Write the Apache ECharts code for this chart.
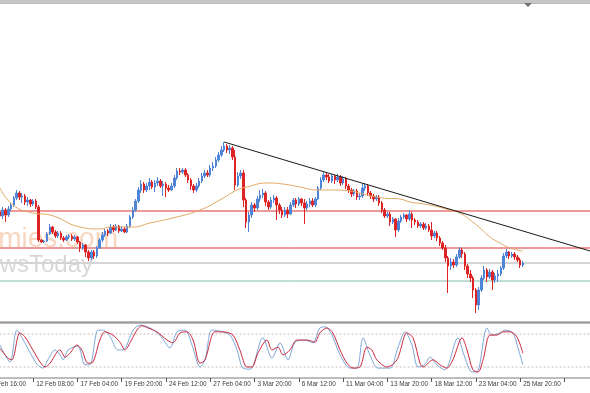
<!DOCTYPE html>
<html><head><meta charset="utf-8">
<script src="https://cdn.jsdelivr.net/npm/echarts@6/dist/echarts.min.js"></script>
<style>html,body{margin:0;padding:0;background:#fff;overflow:hidden}#c{width:590px;height:393px}</style>
</head><body><div id="c"></div>
<script>
// Bottom time axis: one label every 16 bars (H4 bars)
const tickLabels = ['9 Feb 16:00','12 Feb 08:00','17 Feb 04:00','19 Feb 20:00','24 Feb 12:00','27 Feb 04:00','3 Mar 20:00','6 Mar 12:00','11 Mar 04:00','13 Mar 20:00','18 Mar 12:00','23 Mar 04:00','25 Mar 20:00'];
const barsPerLabel = 16;
const totalBars = 218;     // slots on the time axis (incl. empty right margin)
const firstBar = 4;        // first bar with data

// Candles [open, close, low, high] (price units), bars 4..193
const candles = [
[188,184,180,192],[184,190,181,193],[190,185,178,192],[185,191,183,194],[191,195,189,197],[195,202,193,204],
[202,207,200,210],[207,203,200,209],[203,204,197,207],[204,198,195,206],[198,200,194,203],[200,196,193,201],
[196,199,194,201],[199,193,191,201],[193,160,158,195],[160,158,157,161],[158,159,157,160],[159,166,158,168],
[166,173,165,176],[173,168,166,174],[168,164,162,170],[164,167,162,169],[167,162,160,169],[162,160,158,164],
[160,163,159,165],[163,164,161,166],[164,161,159,166],[161,163,159,165],[163,158,156,164],[158,152,148,159],
[152,155,150,157],[155,148,143,156],[148,142,139,150],[142,148,140,150],[148,144,141,150],[144,152,142,154],
[152,160,151,162],[160,165,158,168],[165,169,163,171],[169,167,164,171],[167,173,166,176],[173,170,168,175],
[170,174,169,176],[174,169,167,175],[169,171,168,174],[171,168,167,173],[168,174,167,176],[174,183,172,185],
[183,190,181,193],[190,199,188,201],[199,210,197,213],[210,216,207,220],[216,210,207,218],[210,214,208,217],
[214,218,210,222],[218,213,211,220],[213,217,208,220],[217,219,214,223],[219,214,212,221],[214,216,204,219],
[216,212,203,218],[212,210,208,215],[210,214,209,217],[214,222,212,225],[222,229,220,232],[229,228,225,232],
[228,230,226,232],[230,225,223,232],[225,220,217,227],[220,214,210,222],[214,210,207,216],[210,214,208,217],
[214,219,212,222],[219,224,217,227],[224,227,222,230],[227,225,223,230],[225,232,223,235],[232,234,229,238],
[234,240,232,243],[240,245,238,248],[245,250,243,254],[250,254,248,258],[254,250,247,256],[250,252,246,255],
[252,243,240,254],[243,215,210,250],[215,224,213,228],[224,227,221,230],[227,200,193,230],[200,178,172,202],
[178,185,168,188],[185,195,182,198],[195,192,188,197],[192,201,190,204],[201,205,198,210],[205,207,202,211],
[207,198,194,209],[198,193,190,200],[193,200,191,203],[200,202,197,205],[202,195,180,204],[195,190,186,197],
[190,185,182,193],[185,190,183,193],[190,186,182,193],[186,195,185,198],[195,200,193,202],[200,196,192,202],
[196,201,194,203],[201,197,194,202],[197,192,176,201],[192,196,190,199],[196,199,193,202],[199,195,193,202],
[195,201,193,203],[201,212,200,214],[212,220,210,223],[220,225,218,228],[225,223,220,227],[223,219,217,226],
[219,224,217,226],[224,220,216,225],[220,223,218,226],[223,217,214,225],[217,221,215,224],[221,214,211,223],
[214,210,207,216],[210,206,203,212],[206,209,204,211],[209,203,200,211],[203,204,200,207],[204,212,202,216],
[212,214,209,217],[214,207,204,216],[207,204,201,209],[204,201,198,206],[201,203,199,205],[203,197,194,205],
[197,190,187,199],[190,184,182,192],[184,186,182,188],[186,178,174,188],[178,181,176,183],[181,170,163,182],
[170,179,168,182],[179,183,177,185],[183,185,181,187],[185,181,178,186],[181,186,179,190],[186,180,172,188],
[180,178,175,182],[178,174,172,180],[174,176,172,178],[176,172,170,178],[172,174,170,177],[174,170,168,176],
[170,164,160,178],[164,167,162,169],[167,162,159,169],[162,157,154,164],[157,152,150,159],[152,142,138,155],
[142,134,107,144],[134,138,130,142],[138,135,132,141],[135,143,133,146],[143,150,141,153],[150,146,142,152],
[146,134,130,148],[134,126,122,136],[126,122,118,130],[122,110,102,124],[110,95,87,112],[95,110,90,113],
[110,122,108,125],[122,130,120,134],[130,123,118,132],[123,128,121,131],[128,120,110,130],[120,124,117,127],
[124,126,118,130],[126,132,124,134],[132,144,130,147],[144,148,142,151],[148,144,141,149],[144,146,142,148],
[146,143,140,148],[143,140,138,145],[140,135,132,142],[135,137,133,139]
];

// Moving average [bar, price]
const maPoints = [[4,212],[8.7,195],[15.9,187],[22.1,185],[32.9,173],[40.1,171],[43.8,173],[52.1,173],[58.2,177],
[66.5,182],[76.3,190],[83.5,200],[89.7,210],[93.3,213],[100.5,217],[106.3,216],[112.4,213],[118.9,210],[124.3,210],
[130.5,209],[136.6,205],[142.4,202],[148.6,201],[152.2,198],[159.4,195],[166.6,190],[170.2,187],[173.9,180],
[177.5,172],[181.1,163],[184.7,157],[188.3,152],[193,149]];

// Horizontal levels and trend line
const resistanceLevel = 189;
const supportLevel = 152;
const bidLevel = 137;
const lowerLevel = 119;
const trendStart = [85, 258];
const trendEnd = [217.5, 148.8];

// Stochastic oscillator [bar, value]
const stochMain = [[4,60],[7.6,29],[10.1,87],[12,73],[14.8,47],[17.4,25],[19.5,18],[21.3,33],[23.9,51],[25.7,42],
[26.8,33],[28.6,51],[32.2,58],[34.7,24],[36.5,24],[39.4,87],[41.2,87],[43.8,75],[46.6,51],[48.5,51],[52.1,87],
[54.6,96],[58.2,91],[61.8,78],[65.4,55],[68,84],[70.9,87],[73.4,60],[76.3,20],[78.1,33],[80.6,87],[83.5,85],
[87.1,78],[89.7,51],[91.8,18],[94.4,16],[99,73],[102.3,36],[105.2,64],[108.1,33],[110.6,65],[114.2,69],[117.1,64],
[119.6,91],[121.5,93],[124,78],[126.9,42],[130.5,18],[133,18],[135.2,73],[137.7,42],[140.6,18],[145,18],[147.8,55],
[150.4,84],[152.9,60],[155.1,20],[157.6,25],[159.4,38],[162.3,22],[164.8,15],[169.5,73],[171.7,42],[174.6,11],
[176.4,11],[180,91],[181.8,78],[184.7,82],[186.5,87],[189.4,82],[191.2,55],[193,24]];
const stochSignal = [[4,54],[6.9,36],[8.3,33],[11.2,82],[13,75],[15.9,51],[18.5,29],[20.3,20],[22.1,27],[24.6,47],
[25.7,51],[27.5,38],[29.3,45],[31.8,60],[33.6,51],[35.8,27],[37.6,29],[40.1,69],[41.9,84],[44.8,78],[47.4,65],
[49.2,51],[51,64],[53.5,87],[55.3,95],[57.5,91],[60.7,84],[64.4,69],[66.5,64],[69.1,82],[71.6,84],[73.8,69],
[76.3,27],[78.1,33],[81.7,84],[84.6,84],[88.2,78],[90.7,51],[93.3,20],[95.1,20],[97.2,45],[100.5,69],[102.3,51],
[104.5,56],[106.3,42],[108.8,51],[111.3,69],[115,69],[117.8,65],[119.6,82],[122.2,91],[124.3,82],[126.9,51],
[129.4,27],[131.6,18],[134.1,20],[136.6,56],[138.4,51],[140.2,33],[143.9,20],[147.5,33],[151.1,82],[153.3,73],
[155.8,27],[156.9,20],[160.5,33],[163,24],[165.5,18],[167.7,33],[171,73],[172.8,51],[174.9,15],[176.8,11],
[178.6,33],[181.1,78],[183.6,78],[185.8,84],[188.3,84],[190.8,75],[193,45]];
const stochLevels = [80, 20];

const categories = Array.from({length: totalBars}, (_, i) => String(i));
const candleData = Array(firstBar).fill('-').concat(candles);
const xEnds = [-0.5, totalBars - 0.5];
const hLine = (v) => xEnds.map(x => [x, v]);

const chart = echarts.init(document.getElementById('c'), null, {renderer: 'canvas'});
const gridLeft = -12.5, gridWidth = 603.2;
chart.setOption({
  animation: false,
  backgroundColor: '#ffffff',
  graphic: [
    {type: 'rect', shape: {x: 0, y: 0, width: 590, height: 3}, style: {fill: '#c6c6c6'}, z: 10},
    {type: 'polygon', shape: {points: [[524, 3], [532, 3], [528, 7]]}, style: {fill: '#707070'}, z: 10},
    {type: 'text', right: 472, top: 225, z: 0, style: {text: 'Economies.com', font: '28px "Liberation Sans"', fill: 'rgba(240,165,115,0.45)'}},
    {type: 'text', right: 497, top: 253, z: 0, style: {text: 'NewsToday', font: '24px "Liberation Sans"', fill: 'rgba(150,150,150,0.38)'}}
  ],
  grid: [
    {left: gridLeft, width: gridWidth, top: 3, height: 319, show: true, borderColor: '#7a7a7a', borderWidth: 1,
     backgroundColor: 'transparent', containLabel: false, outerBoundsMode: 'none'},
    {left: gridLeft, width: gridWidth, top: 323, height: 55, show: true, borderColor: '#7a7a7a', borderWidth: 1,
     backgroundColor: 'transparent', containLabel: false, outerBoundsMode: 'none'}
  ],
  xAxis: [
    {type: 'category', gridIndex: 0, data: categories, boundaryGap: true, show: false},
    {type: 'category', gridIndex: 1, data: categories, boundaryGap: true,
     axisLine: {show: false},
     axisTick: {show: true, interval: barsPerLabel - 1, alignWithLabel: true, length: 4, lineStyle: {color: '#555'}},
     axisLabel: {show: true, interval: barsPerLabel - 1, align: 'left', margin: 3, padding: [0, 0, 0, 3],
       hideOverlap: false, showMinLabel: true,
       fontFamily: 'Liberation Sans', fontSize: 6.4, color: '#3a3a3a',
       formatter: (v, idx) => tickLabels[idx / barsPerLabel] || ''},
     splitLine: {show: false}},
    {type: 'value', gridIndex: 0, min: -0.5, max: totalBars - 0.5, show: false},
    {type: 'value', gridIndex: 1, min: -0.5, max: totalBars - 0.5, show: false}
  ],
  yAxis: [
    {type: 'value', gridIndex: 0, min: 78, max: 397, show: false, splitLine: {show: false}},
    {type: 'value', gridIndex: 1, min: 0, max: 100, show: false, splitLine: {show: false}}
  ],
  series: [
    {type: 'line', xAxisIndex: 2, yAxisIndex: 0, data: hLine(bidLevel), symbol: 'none', silent: true,
     lineStyle: {color: '#d4d4d4', width: 2}, z: 1},
    {type: 'line', xAxisIndex: 2, yAxisIndex: 0, data: hLine(resistanceLevel), symbol: 'none', silent: true,
     lineStyle: {color: '#d93434', width: 1}, z: 1},
    {type: 'line', xAxisIndex: 2, yAxisIndex: 0, data: hLine(supportLevel), symbol: 'none', silent: true,
     lineStyle: {color: '#d93434', width: 1}, z: 1},
    {type: 'line', xAxisIndex: 2, yAxisIndex: 0, data: hLine(lowerLevel), symbol: 'none', silent: true,
     lineStyle: {color: '#7fbcaa', width: 1}, z: 1},
    {type: 'candlestick', xAxisIndex: 0, yAxisIndex: 0, data: candleData, barWidth: 2, z: 2,
     itemStyle: {color: '#4f84d6', color0: '#dc2424', borderColor: '#4f84d6', borderColor0: '#dc2424', borderWidth: 1}},
    {type: 'line', xAxisIndex: 2, yAxisIndex: 0, data: maPoints, smooth: true, symbol: 'none',
     lineStyle: {color: '#e3a864', width: 1}, z: 3},
    {type: 'line', xAxisIndex: 2, yAxisIndex: 0, data: [trendStart, trendEnd], symbol: 'none',
     lineStyle: {color: '#1a1a1a', width: 1}, z: 4},
    {type: 'line', xAxisIndex: 3, yAxisIndex: 1, data: hLine(stochLevels[0]), symbol: 'none', silent: true,
     lineStyle: {color: '#c9bcbc', width: 1, type: [2, 2]}, z: 1},
    {type: 'line', xAxisIndex: 3, yAxisIndex: 1, data: hLine(stochLevels[1]), symbol: 'none', silent: true,
     lineStyle: {color: '#c9bcbc', width: 1, type: [2, 2]}, z: 1},
    {type: 'line', xAxisIndex: 3, yAxisIndex: 1, data: stochMain, smooth: 0.3, symbol: 'none',
     lineStyle: {color: '#7ea6d6', width: 1}, z: 2},
    {type: 'line', xAxisIndex: 3, yAxisIndex: 1, data: stochSignal, smooth: 0.3, symbol: 'none',
     lineStyle: {color: '#c8283c', width: 1}, z: 3}
  ]
});
</script></body></html>
